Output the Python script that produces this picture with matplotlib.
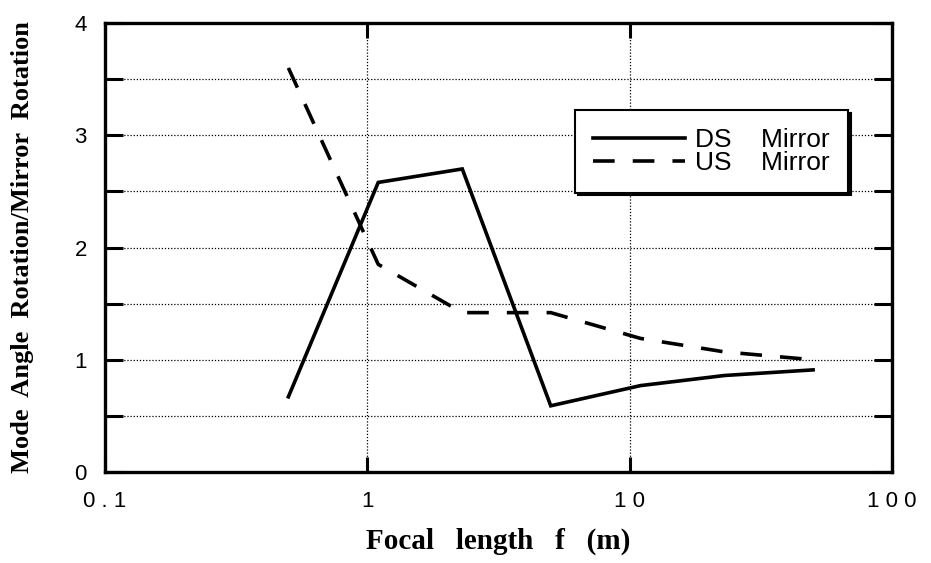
import matplotlib
matplotlib.use("Agg")
import matplotlib.pyplot as plt
from matplotlib.ticker import FixedLocator, NullFormatter

# Data
focal_length = [0.5, 1.1, 2.3, 5, 11, 23, 50]
ds_mirror = [0.67, 2.58, 2.70, 0.59, 0.77, 0.86, 0.91]
us_mirror = [3.60, 1.85, 1.42, 1.42, 1.19, 1.07, 1.00]

x_ticks = [0.1, 1, 10, 100]
x_tick_labels = ["0 . 1", "1", "1 0", "1 0 0"]
y_ticks = [0, 1, 2, 3, 4]
y_minor = [0.5, 1.5, 2.5, 3.5]

fig = plt.figure(figsize=(9.31, 5.63), dpi=100)
ax = fig.add_axes([0.1128, 0.1616, 0.8454, 0.7975])

ax.plot(focal_length, ds_mirror, color="black", lw=2.6, solid_joinstyle="miter",
        label="DS    Mirror")
ax.plot(focal_length, us_mirror, color="black", lw=2.6, linestyle=(0, (6, 5)),
        label="US    Mirror")

ax.set_xscale("log")
ax.set_xlim(0.1, 100)
ax.set_ylim(0, 4)

ax.xaxis.set_major_locator(FixedLocator(x_ticks))
ax.set_xticklabels(x_tick_labels)
ax.xaxis.set_minor_locator(FixedLocator([]))
ax.yaxis.set_major_locator(FixedLocator(y_ticks))
ax.yaxis.set_minor_locator(FixedLocator(y_minor))
ax.yaxis.set_minor_formatter(NullFormatter())

ax.tick_params(axis="both", which="both", direction="in", width=2.2,
               top=True, right=True, colors="black",
               labelsize=16, labelfontfamily="Liberation Sans")
ax.tick_params(axis="y", which="both", length=13, pad=13)
ax.tick_params(axis="x", which="major", length=11, pad=14)

ax.grid(True, which="both", axis="y", linestyle=(0, (1, 1.5)), color="black", lw=0.9)
ax.grid(True, which="major", axis="x", linestyle=(0, (1, 1.5)), color="black", lw=0.9)

for s in ax.spines.values():
    s.set_linewidth(2.4)

ax.set_xlabel("Focal   length   f   (m)", fontfamily="Liberation Serif",
              fontweight="bold", fontsize=21, labelpad=11)
ax.set_ylabel("Mode  Angle  Rotation/Mirror  Rotation", fontfamily="Liberation Serif",
              fontweight="bold", fontsize=19, labelpad=29)

leg = ax.legend(loc="upper left", bbox_to_anchor=(0.597, 0.806), fancybox=False,
                shadow={"color": "black", "alpha": 1.0}, frameon=True,
                prop={"family": "Liberation Sans", "size": 19},
                handlelength=3.5, handletextpad=0.38, labelspacing=-0.05,
                borderpad=0.68, borderaxespad=0)
leg.get_frame().set_edgecolor("black")
leg.get_frame().set_linewidth(1.5)
leg.get_frame().set_alpha(1)

fig.savefig("out.png", dpi=100)
